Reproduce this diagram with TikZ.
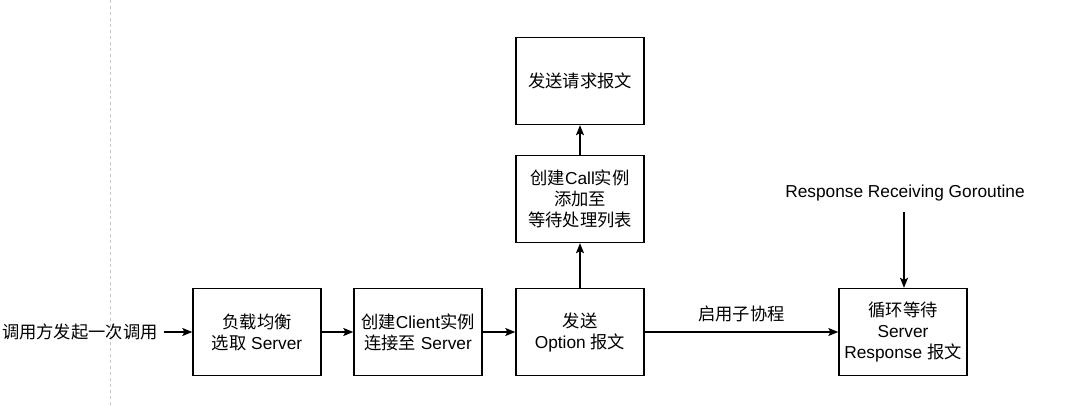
\documentclass[tikz,border=0pt]{standalone}
\usepackage{fontspec}
\setmainfont{Liberation Sans}
\newfontfamily\cjk{Noto Sans CJK SC}
\usetikzlibrary{arrows.meta}
\tikzset{
  x=1pt,y=-1pt,
  box/.style={draw,line width=1.4pt,minimum width=128pt,minimum height=87pt,inner sep=0pt,align=center,
    font=\fontsize{17.3}{21}\selectfont},
  plain/.style={inner sep=0pt,align=center,font=\fontsize{17.3}{21}\selectfont},
  conn/.style={line width=1.2pt,-{Stealth[length=10pt,width=8pt,inset=2pt]}},
}
\begin{document}
\begin{tikzpicture}
\useasboundingbox (0,0) rectangle (1074,406);
\draw[gray!45,line width=0.8pt,dash pattern=on 3pt off 3pt] (110,0) -- (110,406);
\node[box] (lb) at (257,332) {{\cjk 负载均衡}\\{\cjk 选取} Server};
\node[box] (cc) at (418,332) {{\cjk 创建}Client{\cjk 实例}\\{\cjk 连接至} Server};
\node[box] (so) at (580,332) {{\cjk 发送}\\Option {\cjk 报文}};
\node[box] (call) at (580,199) {{\cjk 创建}Call{\cjk 实例}\\{\cjk 添加至}\\{\cjk 等待处理列表}};
\node[box] (req) at (580,81) {{\cjk 发送请求报文}};
\node[box] (resp) at (903,332) {{\cjk 循环等待}\\Server\\Response {\cjk 报文}};
\node[plain,anchor=east] (caller) at (158,332) {\cjk 调用方发起一次调用};
\node[plain] (gor) at (905,193) {Response Receiving Goroutine};
\coordinate (gs) at (904,212);
\coordinate (cs) at (164,332);
\draw[conn] (cs) -- (lb.west);
\draw[conn] (lb) -- (cc);
\draw[conn] (cc) -- (so);
\draw[conn] (so) -- (call);
\draw[conn] (call) -- (req);
\draw[conn] (so) -- node[plain,above=9pt] {\cjk 启用子协程} (resp);
\draw[conn] (gs) -- (gs |- resp.north);
\end{tikzpicture}
\end{document}
